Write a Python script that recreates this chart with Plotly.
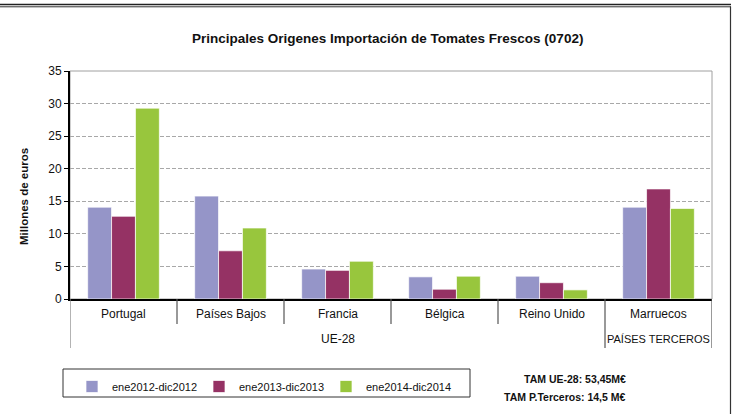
import plotly.graph_objects as go

categories = ["Portugal", "Países Bajos", "Francia", "Bélgica", "Reino Unido", "Marruecos"]
groups = ["UE-28", "UE-28", "UE-28", "UE-28", "UE-28", "PAÍSES TERCEROS"]
series_names = ["ene2012-dic2012", "ene2013-dic2013", "ene2014-dic2014"]
v2012 = [14.1, 15.8, 4.6, 3.4, 3.5, 14.1]
v2013 = [12.7, 7.4, 4.4, 1.5, 2.5, 16.9]
v2014 = [29.3, 10.9, 5.8, 3.5, 1.4, 13.9]
colors = ["#9595C8", "#953264", "#98C63D"]
y_ticks = [0, 5, 10, 15, 20, 25, 30, 35]
title = "Principales Origenes Importación de Tomates Frescos (0702)"
y_title = "Millones de euros"
tam_text = ["TAM UE-28: 53,45M€", "TAM P.Terceros: 14,5 M€"]

FONT = "Liberation Sans, Arial, sans-serif"
W, H = 738, 414
L, R, T, B = 70, 26, 71, 115
pw, ph = W - L - R, H - T - B

def px_x(x):
    return (x - L) / pw

def px_y(y):
    return (H - B - y) / ph

fig = go.Figure()
for name, vals, c in zip(series_names, [v2012, v2013, v2014], colors):
    fig.add_trace(go.Bar(x=categories, y=vals, name=name,
                         marker=dict(color=c, line=dict(color="rgba(255,255,255,0.7)", width=1))))

shapes = []
# plot area gray border
shapes.append(dict(type="rect", xref="paper", yref="paper", x0=0, x1=1, y0=0, y1=1,
                   line=dict(color="#A0A0A0", width=1), layer="below"))
# category separators
n = len(categories)
for i in range(n + 1):
    xpos = i - 0.5
    if 0 < i < n:
        is_group_edge = groups[i - 1] != groups[i]
    else:
        is_group_edge = True
    y1 = px_y(348) if is_group_edge else px_y(324)
    shapes.append(dict(type="line", xref="x", yref="paper", x0=xpos, x1=xpos, y0=0, y1=y1,
                       line=dict(color="#555555" if i > 0 else "#808080", width=1.2)))
# outer frame
shapes.append(dict(type="line", xref="paper", yref="paper", x0=px_x(0), x1=px_x(731),
                   y0=px_y(4.5), y1=px_y(4.5), line=dict(color="#222", width=1.6)))
shapes.append(dict(type="line", xref="paper", yref="paper", x0=px_x(0), x1=px_x(731),
                   y0=px_y(6.8), y1=px_y(6.8), line=dict(color="#333", width=1)))
shapes.append(dict(type="line", xref="paper", yref="paper", x0=px_x(730.5), x1=px_x(730.5),
                   y0=px_y(6.5), y1=px_y(414), line=dict(color="#333", width=1.2)))
# legend box
shapes.append(dict(type="rect", xref="paper", yref="paper", x0=px_x(63), x1=px_x(470),
                   y0=px_y(397), y1=px_y(369), line=dict(color="#333", width=1)))

annotations = []
for c in categories:
    annotations.append(dict(x=c, y=px_y(314), xref="x", yref="paper", text=c, showarrow=False,
                            font=dict(family=FONT, size=12, color="#111"), yanchor="middle"))
# group labels
seen = []
for g in groups:
    if g not in seen:
        seen.append(g)
for g in seen:
    idx = [i for i, gg in enumerate(groups) if gg == g]
    annotations.append(dict(x=(idx[0] + idx[-1]) / 2, y=px_y(339), xref="x", yref="paper", text=g,
                            showarrow=False, font=dict(family=FONT, size=11 if len(g) > 8 else 12, color="#111"),
                            yanchor="middle"))
annotations.append(dict(x=px_x(16), y=px_y(197), xref="paper", yref="paper", text="<b>" + y_title + "</b>",
                        textangle=-90, showarrow=False, yanchor="middle",
                        font=dict(family=FONT, size=11.5, color="#111")))
annotations.append(dict(x=px_x(387), y=px_y(38), xref="paper", yref="paper", text="<b>" + title + "</b>",
                        showarrow=False, yanchor="middle", font=dict(family=FONT, size=13.5, color="#111")))
for k, t in enumerate(tam_text):
    annotations.append(dict(x=px_x(628), y=px_y(379 + 18 * k), xref="paper", yref="paper",
                            text="<b>" + t + "</b>", showarrow=False, yanchor="middle",
                            font=dict(family=FONT, size=10.5, color="#111")))

fig.update_layout(
    width=W, height=H, margin=dict(l=L, r=R, t=T, b=B, autoexpand=False),
    paper_bgcolor="white", plot_bgcolor="white",
    barmode="group", bargap=0.33, bargroupgap=0,
    showlegend=True,
    legend=dict(orientation="h", x=px_x(72), y=px_y(372), xanchor="left", yanchor="top",
                font=dict(family=FONT, size=11, color="#111"), entrywidth=82, entrywidthmode="pixels",
                itemwidth=30, bgcolor="rgba(0,0,0,0)", borderwidth=0),
    shapes=shapes, annotations=annotations,
    xaxis=dict(showticklabels=False, showgrid=False, zeroline=False, showline=True,
               linecolor="black", linewidth=2, ticks="", range=[-0.5, n - 0.5]),
    yaxis=dict(range=[0, 35], tickvals=y_ticks, showgrid=True, gridcolor="#A8A8A8", griddash="4px,2px",
               gridwidth=1, zeroline=False, showline=True, linecolor="black", linewidth=2,
               ticks="outside", ticklen=4, tickcolor="black",
               tickfont=dict(family=FONT, size=12, color="#111")),
)
fig.write_html("out.html", config={"displayModeBar": False},
               post_script="document.body.style.margin='0';document.body.style.padding='0';")
